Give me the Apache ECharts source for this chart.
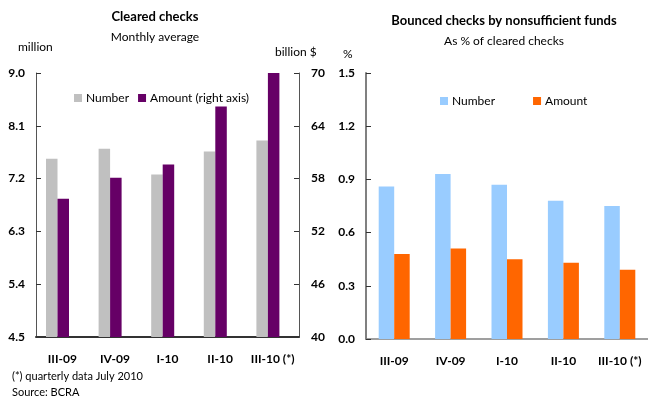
<!DOCTYPE html>
<html>
<head>
<meta charset="utf-8">
<script src="https://cdn.jsdelivr.net/npm/echarts@6/dist/echarts.min.js"></script>
<style>
  html, body { margin: 0; padding: 0; background: #fff; }
  #chart { width: 648px; height: 398px; }
</style>
</head>
<body>
<div id="chart"></div>
<script>
// Quarters shown on both panels
const quarters = ['III-09', 'IV-09', 'I-10', 'II-10', 'III-10 (*)'];

// Cleared checks, monthly average
const clearedNumber = [7.54, 7.71, 7.27, 7.66, 7.85];   // million
const clearedAmount = [55.7, 58.1, 59.6, 66.2, 70.0];   // billion $

// Bounced checks by nonsufficient funds, % of cleared checks
const bouncedNumber = [0.86, 0.93, 0.87, 0.78, 0.75];
const bouncedAmount = [0.48, 0.51, 0.45, 0.43, 0.39];

// Axis tick settings
const leftTicks = { min: 4.5, max: 9.0, step: 0.9 };
const rightTicks = { min: 40, max: 70, step: 6 };
const pctTicks = { min: 0, max: 1.5, step: 0.3 };

const FONT = 'Lato, "Open Sans", sans-serif';

const chart = echarts.init(document.getElementById('chart'), null, { renderer: 'canvas' });

const tickLabel = (margin, digits) => ({
  fontFamily: FONT, fontSize: 12, fontWeight: 'bold', color: '#000', margin: margin,
  formatter: v => digits === null ? String(Math.round(v)) : v.toFixed(digits)
});

const catLabel = {
  fontFamily: FONT, fontSize: 12, fontWeight: 'bold', color: '#000', margin: 16, interval: 0
};

const option = {
  animation: false,
  backgroundColor: '#fff',
  grid: [
    { left: 36, right: 349, top: 73, bottom: 61, containLabel: false },
    { left: 366, right: 0, top: 73, bottom: 59, containLabel: false }
  ],
  legend: [
    {
      data: ['Number', 'Amount (right axis)'],
      left: 69, top: 87, itemWidth: 8, itemHeight: 8, itemGap: 9,
      icon: 'rect',
      textStyle: { fontFamily: FONT, fontSize: 12, color: '#000', padding: [0, 0, 0, -1] }
    },
    {
      data: ['Number %', 'Amount %'],
      left: 435, top: 90, itemWidth: 8, itemHeight: 8, itemGap: 38,
      icon: 'rect',
      formatter: n => n.replace(' %', ''),
      textStyle: { fontFamily: FONT, fontSize: 12, color: '#000', padding: [0, 0, 0, -1] }
    }
  ],
  xAxis: [
    {
      type: 'category', gridIndex: 0, data: quarters,
      axisLine: { lineStyle: { color: '#333', width: 2 } },
      axisTick: { show: false },
      axisLabel: catLabel
    },
    {
      type: 'category', gridIndex: 1, data: quarters,
      axisLine: { lineStyle: { color: '#808080', width: 1.5 } },
      axisTick: { show: false },
      axisLabel: catLabel
    }
  ],
  yAxis: [
    {
      type: 'value', gridIndex: 0, position: 'left',
      min: leftTicks.min, max: leftTicks.max, interval: leftTicks.step,
      axisLine: { show: true, lineStyle: { color: '#555', width: 1 } },
      axisTick: { show: true, inside: true, length: 5, lineStyle: { color: '#333' } },
      splitLine: { show: false },
      axisLabel: tickLabel(11, 1)
    },
    {
      type: 'value', gridIndex: 0, position: 'right',
      min: rightTicks.min, max: rightTicks.max, interval: rightTicks.step,
      axisLine: { show: true, lineStyle: { color: '#555', width: 1 } },
      axisTick: { show: true, inside: true, length: 5, lineStyle: { color: '#333' } },
      splitLine: { show: false },
      axisLabel: tickLabel(12, null)
    },
    {
      type: 'value', gridIndex: 1, position: 'left',
      min: pctTicks.min, max: pctTicks.max, interval: pctTicks.step,
      axisLine: { show: true, lineStyle: { color: '#808080', width: 2 } },
      axisTick: { show: true, inside: true, length: 5, lineStyle: { color: '#333' } },
      splitLine: { show: false },
      axisLabel: tickLabel(11, 1)
    }
  ],
  series: [
    {
      name: 'Number', type: 'bar', xAxisIndex: 0, yAxisIndex: 0,
      data: clearedNumber, barWidth: 11.5, barGap: '0%',
      itemStyle: { color: '#C0C0C0' }
    },
    {
      name: 'Amount (right axis)', type: 'bar', xAxisIndex: 0, yAxisIndex: 1,
      data: clearedAmount, barWidth: 11.5, barGap: '0%',
      itemStyle: { color: '#660066' }
    },
    {
      // empty slot that keeps the bar pair left of the label centre
      name: 'spacer', type: 'bar', xAxisIndex: 0, yAxisIndex: 0,
      data: [], barWidth: 9.6, barGap: '0%'
    },
    {
      name: 'Number %', type: 'bar', xAxisIndex: 1, yAxisIndex: 2,
      data: bouncedNumber, barWidth: 15.5, barGap: '0%',
      itemStyle: { color: '#99CCFF' }
    },
    {
      name: 'Amount %', type: 'bar', xAxisIndex: 1, yAxisIndex: 2,
      data: bouncedAmount, barWidth: 15.5, barGap: '0%',
      itemStyle: { color: '#FF6600' }
    }
  ],
  graphic: [
    { type: 'text', x: 155, y: 10, style: { text: 'Cleared checks', font: 'bold 13px ' + FONT, fill: '#000', textAlign: 'center' } },
    { type: 'text', x: 155, y: 31, style: { text: 'Monthly average', font: '12px ' + FONT, fill: '#000', textAlign: 'center' } },
    { type: 'text', x: 18, y: 41, style: { text: 'million', font: '12px ' + FONT, fill: '#000' } },
    { type: 'text', x: 275, y: 46, style: { text: 'billion $', font: '12px ' + FONT, fill: '#000' } },
    { type: 'text', x: 504, y: 14, style: { text: 'Bounced checks by nonsufficient funds', font: 'bold 13px ' + FONT, fill: '#000', textAlign: 'center' } },
    { type: 'text', x: 504, y: 35, style: { text: 'As % of cleared checks', font: '12px ' + FONT, fill: '#000', textAlign: 'center' } },
    { type: 'text', x: 343, y: 48, style: { text: '%', font: '12px ' + FONT, fill: '#000' } },
    { type: 'text', x: 12, y: 371, style: { text: '(*) quarterly data July 2010', font: '11px ' + FONT, fill: '#000' } },
    { type: 'text', x: 12, y: 387, style: { text: 'Source: BCRA', font: '11px ' + FONT, fill: '#000' } }
  ]
};

chart.setOption(option);
</script>
</body>
</html>
